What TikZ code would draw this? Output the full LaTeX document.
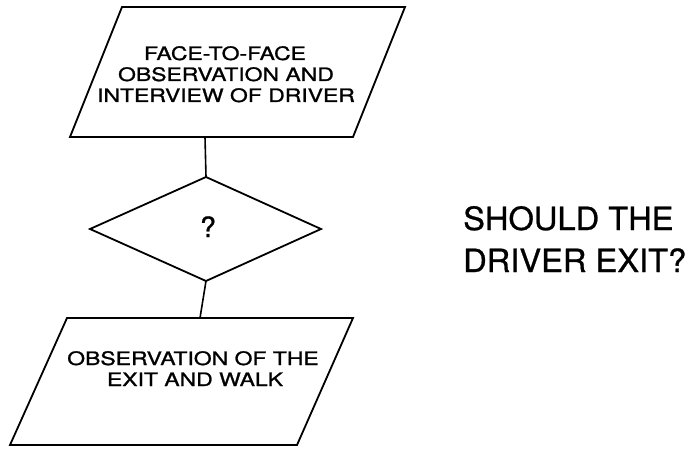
\documentclass[tikz,border=0pt]{standalone}
\usepackage{fontspec}
\setmainfont{TeX Gyre Heros}
\newfontfamily\widefont[FakeStretch=1.24,FakeBold=1.2]{TeX Gyre Heros}
\newfontfamily\qfont[FakeStretch=1.02,FakeBold=0.8]{TeX Gyre Heros}
\begin{document}
\begin{tikzpicture}[x=1pt,y=-1pt,
  shapeline/.style={draw=black,line width=1.8pt,line join=miter},
  conn/.style={draw=black,line width=1.6pt},
  boxtext/.style={inner sep=0pt,anchor=base,font=\widefont\fontsize{18.5}{21}\selectfont},
  bigtext/.style={inner sep=0pt,anchor=base west,font=\qfont\fontsize{32}{42}\selectfont},
  qmark/.style={inner sep=0pt,anchor=base,font=\qfont\fontsize{28}{30}\selectfont}]
\useasboundingbox (0,0) rectangle (696,449);
% top parallelogram
\coordinate (a1) at (122,7);
\coordinate (a2) at (405,7);
\coordinate (a3) at (353,137);
\coordinate (a4) at (70,137);
\draw[shapeline] (a1) -- (a2) -- (a3) -- (a4) -- cycle;
\coordinate (abot) at (205,137);
% diamond
\coordinate (dtop) at (206,177);
\coordinate (dright) at (321,229);
\coordinate (dbot) at (206,281);
\coordinate (dleft) at (90,229);
\draw[shapeline] (dtop) -- (dright) -- (dbot) -- (dleft) -- cycle;
% bottom parallelogram
\coordinate (b1) at (67,318);
\coordinate (b2) at (353,318);
\coordinate (b3) at (297,445);
\coordinate (b4) at (10,445);
\draw[shapeline] (b1) -- (b2) -- (b3) -- (b4) -- cycle;
\coordinate (btop) at (200,318);
% connectors
\draw[conn] (abot) -- (dtop);
\draw[conn] (dbot) -- (btop);
% texts
\node[boxtext] (t1) at (225,60) {FACE-TO-FACE};
\node[boxtext] (t2) at (226,81) {OBSERVATION AND};
\node[boxtext] (t3) at (226,102) {INTERVIEW OF DRIVER};
\node[qmark] (q) at (208,237) {?};
\node[boxtext] (u1) at (193,365) {OBSERVATION OF THE};
\node[boxtext] (u2) at (195,386) {EXIT AND WALK};
\node[bigtext] (s1) at (463,230) {SHOULD THE};
\node[bigtext] (s2) at (463,272) {DRIVER EXIT?};
\end{tikzpicture}
\end{document}
